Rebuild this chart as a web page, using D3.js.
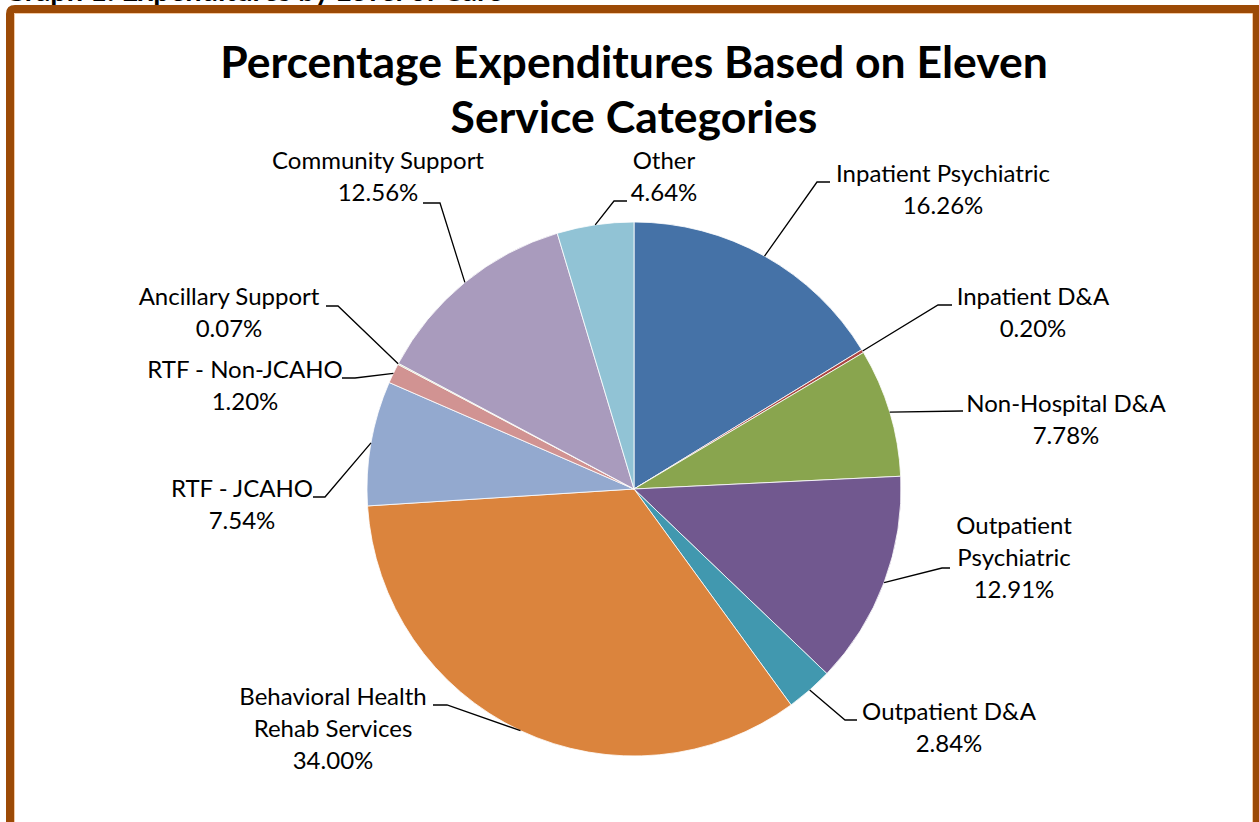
<!DOCTYPE html>
<html>
<head>
<meta charset="utf-8">
<script src="https://cdn.jsdelivr.net/npm/d3@7"></script>
<style>
  html, body { margin: 0; padding: 0; background: #fff; }
  svg { display: block; font-family: Lato, "Noto Sans", sans-serif; }
</style>
</head>
<body>
<svg id="svg" width="1259" height="822"></svg>
<script>
/* global d3: false */

// data, clockwise from 12 o'clock
const categories = [
  'Inpatient Psychiatric', 'Inpatient D&A', 'Non-Hospital D&A',
  'Outpatient Psychiatric', 'Outpatient D&A', 'Behavioral Health Rehab Services',
  'RTF - JCAHO', 'RTF - Non-JCAHO', 'Ancillary Support', 'Community Support', 'Other'];
const shares = [16.26, 0.20, 7.78, 12.91, 2.84, 34.00, 7.54, 1.20, 0.07, 12.56, 4.64];
const labelLines = [
  ['Inpatient Psychiatric'], ['Inpatient D&A'], ['Non-Hospital D&A'],
  ['Outpatient', 'Psychiatric'], ['Outpatient D&A'], ['Behavioral Health', 'Rehab Services'],
  ['RTF - JCAHO'], ['RTF - Non-JCAHO'], ['Ancillary Support'], ['Community Support'], ['Other']];
const titleLines = ['Percentage Expenditures Based on Eleven', 'Service Categories'];

const colors = ['#4572A7', '#AA4643', '#89A54E', '#71588F', '#4198AF', '#DB843D',
  '#93A9CF', '#D19392', '#B9CD96', '#A99BBD', '#91C3D5'];

// where Excel put each callout (kink of the leader, end of leader, text centre, first baseline)
const callouts = [
  { kx: 817, ky: 182, ex: 830, tx: 943, ty: 182 },
  { kx: 938, ky: 305, ex: 952, tx: 1033, ty: 305 },
  { kx: 962, ky: 411, ex: 963, tx: 1066, ty: 412 },
  { kx: 942, ky: 568, ex: 950, tx: 1014, ty: 534 },
  { kx: 845, ky: 720, ex: 857, tx: 949, ty: 720 },
  { kx: 447, ky: 705, ex: 433, tx: 333, ty: 705 },
  { kx: 325, ky: 497, ex: 313, tx: 242, ty: 497 },
  { kx: 355, ky: 378, ex: 342, tx: 245, ty: 378 },
  { kx: 338, ky: 306, ex: 326, tx: 229, ty: 305 },
  { kx: 440, ky: 203, ex: 423, tx: 378, ty: 169 },
  { kx: 614, ky: 201, ex: 627, tx: 664, ty: 169 },
];

const svg = d3.select('#svg');
const cx = 634;
const cy = 489;
const radius = 267;
const lineStep = 32;

// caption of the page, cut off above the frame like in the scan
svg.append('text')
  .attr('x', 4)
  .attr('y', 1)
  .style('font-weight', 700)
  .style('font-size', '29px')
  .attr('fill', '#000')
  .text('Graph 1: Expenditures by Level of Care');

// frame
svg.append('path')
  .attr('d', 'M10,900 V14 Q10,9 15,9 H1256 V900')
  .attr('fill', 'none')
  .attr('stroke', '#9C4A06')
  .attr('stroke-width', 8);
svg.append('path')
  .attr('d', 'M14.5,900 V13.5 H1252.5 V900')
  .attr('fill', 'none')
  .attr('stroke', '#F3C9A3')
  .attr('stroke-width', 1);

// title
svg.append('g')
  .selectAll('text')
  .data(titleLines)
  .join('text')
  .attr('x', cx)
  .attr('y', (d, i) => 78 + i * 55)
  .attr('text-anchor', 'middle')
  .style('font-weight', 700)
  .style('font-size', '44.5px')
  .attr('fill', '#000')
  .text(d => d);

const pie = d3.pie().sort(null).value(d => d)(shares);
const arc = d3.arc().innerRadius(0).outerRadius(radius);

const g = svg.append('g').attr('transform', `translate(${cx},${cy})`);
g.selectAll('path')
  .data(pie)
  .join('path')
  .attr('d', arc)
  .attr('fill', (d, i) => colors[i])
  .attr('stroke', '#fff')
  .attr('stroke-width', 0.8);

// leader lines
const edge = d => {
  const a = (d.startAngle + d.endAngle) / 2;
  return [cx + radius * Math.sin(a), cy - radius * Math.cos(a)];
};
svg.append('g')
  .selectAll('path')
  .data(pie)
  .join('path')
  .attr('d', (d, i) => {
    const c = callouts[i];
    const p = edge(d);
    return d3.line()([p, [c.kx, c.ky], [c.ex, c.ky]]);
  })
  .attr('fill', 'none')
  .attr('stroke', '#000')
  .attr('stroke-width', 1.3);

// labels
const fmt = d3.format('.2f');
const labels = svg.append('g')
  .selectAll('text')
  .data(pie)
  .join('text')
  .attr('text-anchor', 'middle')
  .style('font-size', '24px')
  .attr('fill', '#000');
labels.each(function (d, i) {
  const c = callouts[i];
  const lines = labelLines[i].concat([`${fmt(d.data)}%`]);
  d3.select(this).selectAll('tspan')
    .data(lines)
    .join('tspan')
    .attr('x', c.tx)
    .attr('y', (t, j) => c.ty + j * lineStep)
    .text(t => t);
});
</script>
</body>
</html>
